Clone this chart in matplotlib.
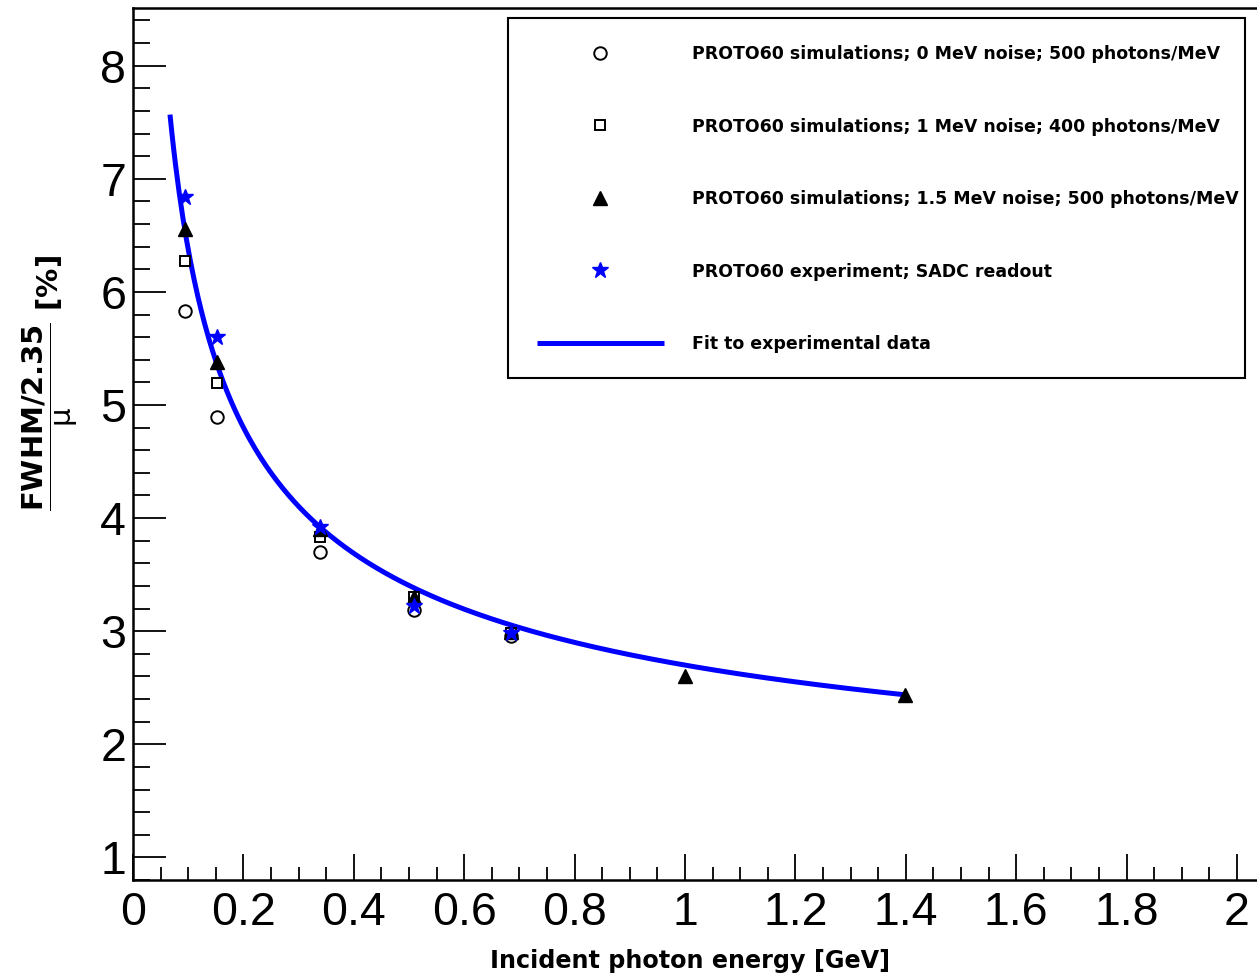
import matplotlib
matplotlib.use("Agg")
import numpy as np
import matplotlib.pyplot as plt
from matplotlib.ticker import MultipleLocator, FuncFormatter
from matplotlib.patches import Rectangle

# values
energy = [0.094, 0.153, 0.339, 0.509, 0.684]
res_sim_0mev = [5.83, 4.89, 3.70, 3.19, 2.955]
res_sim_1mev = [6.27, 5.19, 3.83, 3.30, 2.98]
energy_sim15 = [0.094, 0.153, 0.339, 0.509, 0.684, 1.0, 1.399]
res_sim_15mev = [6.56, 5.38, 3.90, 3.30, 2.99, 2.60, 2.44]
res_exp = [6.84, 5.60, 3.92, 3.22, 2.98]

# fit drawn in the picture: a/sqrt(E) + b, parameters
fit_a = 1.70
fit_b = 1.00
fit_range = [0.067, 1.4]

labels = ["PROTO60 simulations; 0 MeV noise; 500 photons/MeV",
          "PROTO60 simulations; 1 MeV noise; 400 photons/MeV",
          "PROTO60 simulations; 1.5 MeV noise; 500 photons/MeV",
          "PROTO60 experiment; SADC readout",
          "Fit to experimental data"]

plt.rcParams["font.family"] = ["Liberation Sans", "DejaVu Sans"]
plt.rcParams["mathtext.fontset"] = "custom"
plt.rcParams["mathtext.rm"] = "DejaVu Sans"
plt.rcParams["mathtext.it"] = "DejaVu Sans"
plt.rcParams["mathtext.bf"] = "DejaVu Sans:bold"

fig = plt.figure(figsize=(12.57, 9.76), dpi=100)
ax = fig.add_axes([133 / 1257, 1 - 880 / 976, (1264.6 - 133) / 1257, 872 / 976])

blue = "#0000ff"
e_fit = np.linspace(fit_range[0], fit_range[1], 400)
h_fit, = ax.plot(e_fit, fit_a / np.sqrt(e_fit) + fit_b, color=blue, lw=3.6,
                 solid_capstyle="butt", zorder=2)
h0, = ax.plot(energy, res_sim_0mev, ls="none", marker="o", ms=9, mfc="white",
              mec="black", mew=1.4, zorder=3)
h1, = ax.plot(energy, res_sim_1mev, ls="none", marker="s", ms=7.5, mfc="white",
              mec="black", mew=1.4, zorder=3)
h2, = ax.plot(energy_sim15, res_sim_15mev, ls="none", marker="^", ms=10.5,
              color="black", zorder=4)
h3, = ax.plot(energy, res_exp, ls="none", marker="*", ms=12, color=blue, zorder=5)

ax.set_xlim(0, 2.05)
ax.set_ylim(0.8, 8.51)
ax.xaxis.set_major_locator(MultipleLocator(0.2))
ax.xaxis.set_minor_locator(MultipleLocator(0.05))
ax.yaxis.set_major_locator(MultipleLocator(1))
ax.yaxis.set_minor_locator(MultipleLocator(0.2))
ax.xaxis.set_major_formatter(FuncFormatter(lambda v, p: "%g" % round(v, 2)))
ax.yaxis.set_major_formatter(FuncFormatter(lambda v, p: "%g" % round(v, 2)))
ax.tick_params(axis="x", which="major", direction="in", length=19, width=1.3,
               labelsize=33.5, pad=8, labelfontfamily="Liberation Sans")
ax.tick_params(axis="x", which="minor", direction="in", length=9.5, width=1.3)
ax.tick_params(axis="y", which="major", direction="in", length=24, width=1.3,
               labelsize=33.5, pad=5, labelfontfamily="Liberation Sans")
ax.tick_params(axis="y", which="minor", direction="in", length=12, width=1.3)
for s in ax.spines.values():
    s.set_linewidth(1.8)

fig.text(690 / 1257, 1 - 961 / 976, "Incident photon energy [GeV]", fontsize=17.2,
         fontweight="bold", family="DejaVu Sans", ha="center", va="center")
fig.text(50 / 1257, 1 - 383 / 976,
         r"$\dfrac{\mathbf{FWHM/2.35}}{\mu}$ [%]", fontsize=21, fontweight="bold",
         family="DejaVu Sans", rotation=90, ha="center", va="center")

# legend frame + entries
fig.patches.append(Rectangle((508 / 1257, 1 - 378 / 976), 737 / 1257, 360 / 976,
                             transform=fig.transFigure, fill=False, lw=1.5,
                             edgecolor="black"))
leg = fig.legend([h0, h1, h2, h3, h_fit], labels, loc="upper left",
                 bbox_to_anchor=(537 / 1257, 1 - 45 / 976), frameon=False,
                 prop={"weight": "bold", "size": 12.5, "family": "DejaVu Sans"},
                 numpoints=1, handlelength=7.3, handletextpad=1.6,
                 labelspacing=3.14, borderpad=0, borderaxespad=0)

fig.savefig("out.png", dpi=100)
